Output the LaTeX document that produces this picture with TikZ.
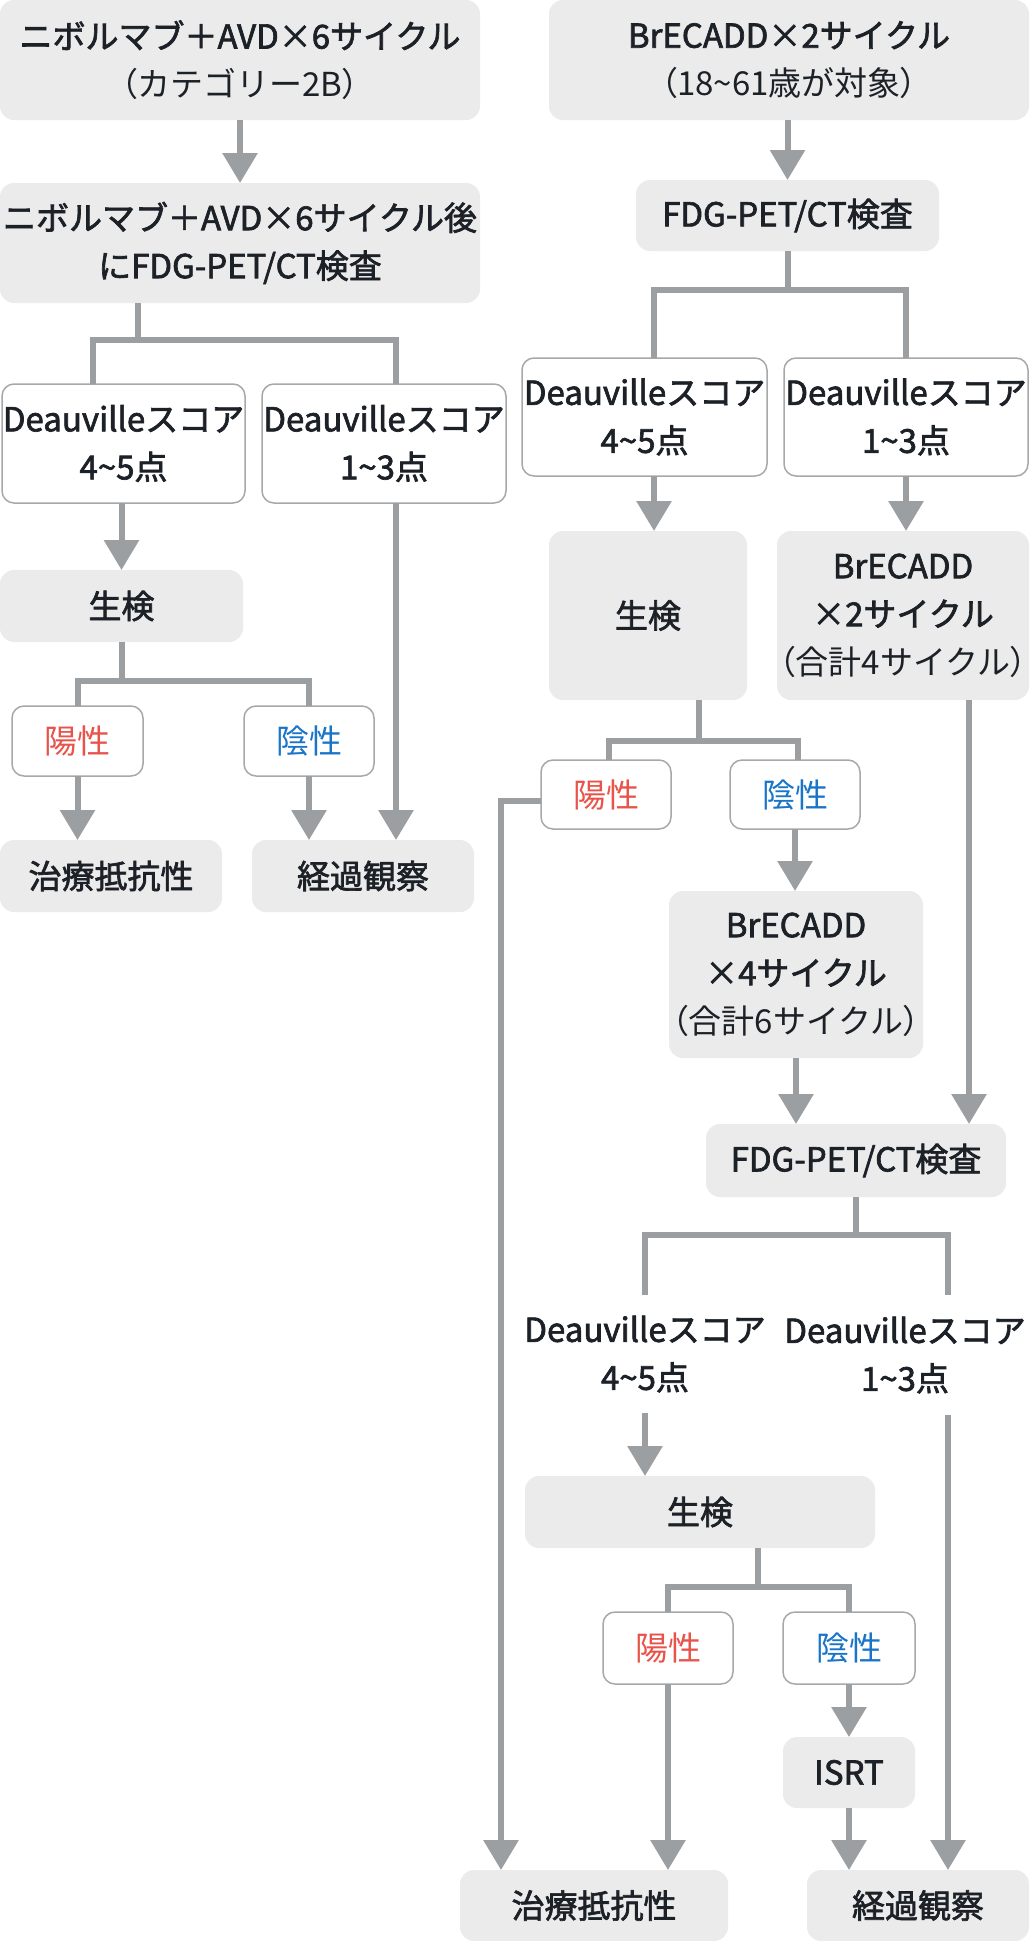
\documentclass[tikz,border=0pt]{standalone}
\usepackage{fontspec}
\setmainfont{Noto Sans CJK JP}[BoldFont={Noto Sans CJK JP}, BoldFeatures={FakeBold=2}]
\usetikzlibrary{arrows.meta}
\definecolor{boxgray}{HTML}{EBEBEB}
\definecolor{linegray}{HTML}{9B9FA2}
\definecolor{bordergray}{HTML}{A8A8A8}
\definecolor{txt}{HTML}{1C2127}
\definecolor{posred}{HTML}{E8534A}
\definecolor{negblue}{HTML}{1A75C9}
\newcommand{\tl}{\textasciitilde}
\newcommand{\lpar}{{\addfontfeature{RawFeature=+palt}（}}
\newcommand{\rpar}{{\addfontfeature{RawFeature=+palt}）}}
\begin{document}
\begin{tikzpicture}[x=1pt,y=-1pt,
  base/.style={inner sep=0pt, outer sep=0pt, align=center, text=txt, font=\fontsize{33}{48}\selectfont},
  gbox/.style={base, fill=boxgray, rounded corners=14pt},
  wbox/.style={base, fill=white, draw=bordergray, line width=1.5pt, rounded corners=12pt},
  plainbox/.style={base},
  sz/.style n args={2}{minimum width=#1pt, minimum height=#2pt},
  conn/.style={draw=linegray, line width=6pt},
  arr/.style={conn, -{Triangle[width=34pt,length=30pt]}}
]
\fill[white] (0,0) rectangle (1029,1941);
\useasboundingbox (0,0) rectangle (1029,1941);

% ---------------- left column ----------------
\node[gbox, sz={480}{120}] (L1) at (240,60) {\textbf{ニボルマブ＋AVD×6サイクル}\\\lpar カテゴリー2B\rpar};
\node[gbox, sz={480}{120}] (L2) at (240,243) {\bfseries ニボルマブ＋AVD×6サイクル後\\\bfseries にFDG-PET/CT検査};
\node[wbox, sz={243}{119}] (LD1) at (123.5,443.5) {\bfseries Deauvilleスコア\\\bfseries 4\tl 5点};
\node[wbox, sz={244}{119}] (LD2) at (384,443.5) {\bfseries Deauvilleスコア\\\bfseries 1\tl 3点};
\node[gbox, sz={243}{72}] (LB) at (121.5,606) {\bfseries 生検};
\node[wbox, sz={131}{70}] (LP) at (77.5,741) {\color{posred}陽性};
\node[wbox, sz={130}{70}] (LN) at (309,741) {\color{negblue}陰性};
\node[gbox, sz={222}{72}] (LR) at (111,876) {\bfseries 治療抵抗性};
\node[gbox, sz={222}{72}] (LO) at (363,876) {\bfseries 経過観察};

\draw[arr] (L1.south) -- (L2.north);
\draw[conn] ([xshift=-102pt]L2.south) -- ++(0,39);
\draw[conn] ([xshift=-30.5pt]LD1.north) -- ++(0,-44) -| ([xshift=12pt]LD2.north);
\draw[arr] (LD1.south -| LB.north) -- (LB.north);
\draw[conn] (LB.south) -- ++(0,39);
\draw[conn] (LP.north) -- ++(0,-25) -| (LN.north);
\draw[arr] (LP.south) -- (LP.south |- LR.north);
\draw[arr] (LN.south) -- (LN.south |- LO.north);
\draw[arr] ([xshift=12pt]LD2.south) -- ([xshift=12pt]LD2.south |- LO.north);

% ---------------- right column ----------------
\node[gbox, sz={480}{120}] (R1) at (789,60) {\textbf{BrECADD×2サイクル}\\\lpar 18\tl 61歳が対象\rpar};
\node[gbox, sz={303}{71}] (RF1) at (787.5,215.5) {\bfseries FDG-PET/CT検査};
\node[wbox, sz={245}{118}] (RD1) at (644.5,417) {\bfseries Deauvilleスコア\\\bfseries 4\tl 5点};
\node[wbox, sz={244}{118}] (RD2) at (906,417) {\bfseries Deauvilleスコア\\\bfseries 1\tl 3点};
\node[gbox, sz={198}{169}] (RB) at (648,615.5) {\bfseries 生検};
\node[gbox, sz={252}{169}] (RC) at (903,615.5) {\textbf{BrECADD}\\\textbf{×2サイクル}\\\lpar 合計4サイクル\rpar};
\node[wbox, sz={130}{69}] (RP) at (606,794.5) {\color{posred}陽性};
\node[wbox, sz={130}{69}] (RN) at (795,794.5) {\color{negblue}陰性};
\node[gbox, sz={254}{167}] (R4) at (796,974.5) {\textbf{BrECADD}\\\textbf{×4サイクル}\\\lpar 合計6サイクル\rpar};
\node[gbox, sz={300}{73}] (RF2) at (856,1160.5) {\bfseries FDG-PET/CT検査};
\node[plainbox, sz={245}{118}] (RD3) at (645,1354) {\bfseries Deauvilleスコア\\\bfseries 4\tl 5点};
\node[plainbox, sz={244}{120}] (RD4) at (905,1355) {\bfseries Deauvilleスコア\\\bfseries 1\tl 3点};
\node[gbox, sz={350}{72}] (RB2) at (700,1512) {\bfseries 生検};
\node[wbox, sz={130}{72}] (RP2) at (668,1648) {\color{posred}陽性};
\node[wbox, sz={132}{72}] (RN2) at (849,1648) {\color{negblue}陰性};
\node[gbox, sz={132}{71}] (ISRT) at (849,1772.5) {\bfseries ISRT};
\node[gbox, sz={268}{71}] (RR) at (594,1905.5) {\bfseries 治療抵抗性};
\node[gbox, sz={222}{71}] (RO) at (918,1905.5) {\bfseries 経過観察};

\draw[arr] (R1.south -| RF1.north) -- (RF1.north);
\draw[conn] (RF1.south) -- ++(0,41);
\draw[conn] ([xshift=9.5pt]RD1.north) -- ++(0,-68) -| (RD2.north);
\draw[arr] ([xshift=9.5pt]RD1.south) -- ([xshift=9.5pt]RD1.south |- RB.north);
\draw[arr] (RD2.south) -- (RD2.south |- RC.north);
\draw[conn] ([xshift=51pt]RB.south) -- ++(0,41);
\draw[conn] ([xshift=3pt]RP.north) -- ++(0,-19) -| ([xshift=3pt]RN.north);
\draw[arr] ([yshift=-6pt]RP.west) -| ([xshift=-93pt]RR.north);
\draw[arr] (RN.south) -- (RN.south |- R4.north);
\draw[arr] (R4.south) -- (R4.south |- RF2.north);
\draw[arr] ([xshift=66pt]RC.south) -- ([xshift=66pt]RC.south |- RF2.north);
\draw[conn] (RF2.south) -- ++(0,40);
\draw[conn] (RD3.north) -- ++(0,-60) -| ([xshift=43pt]RD4.north);
\draw[arr] (RD3.south) -- (RD3.south |- RB2.north);
\draw[arr] ([xshift=43pt]RD4.south) -- ([xshift=43pt]RD4.south |- RO.north);
\draw[conn] ([xshift=58pt]RB2.south) -- ++(0,39);
\draw[conn] (RP2.north) -- ++(0,-25) -| (RN2.north);
\draw[arr] (RP2.south) -- (RP2.south |- RR.north);
\draw[arr] (RN2.south) -- (ISRT.north);
\draw[arr] (ISRT.south) -- (ISRT.south |- RO.north);
\end{tikzpicture}
\end{document}
